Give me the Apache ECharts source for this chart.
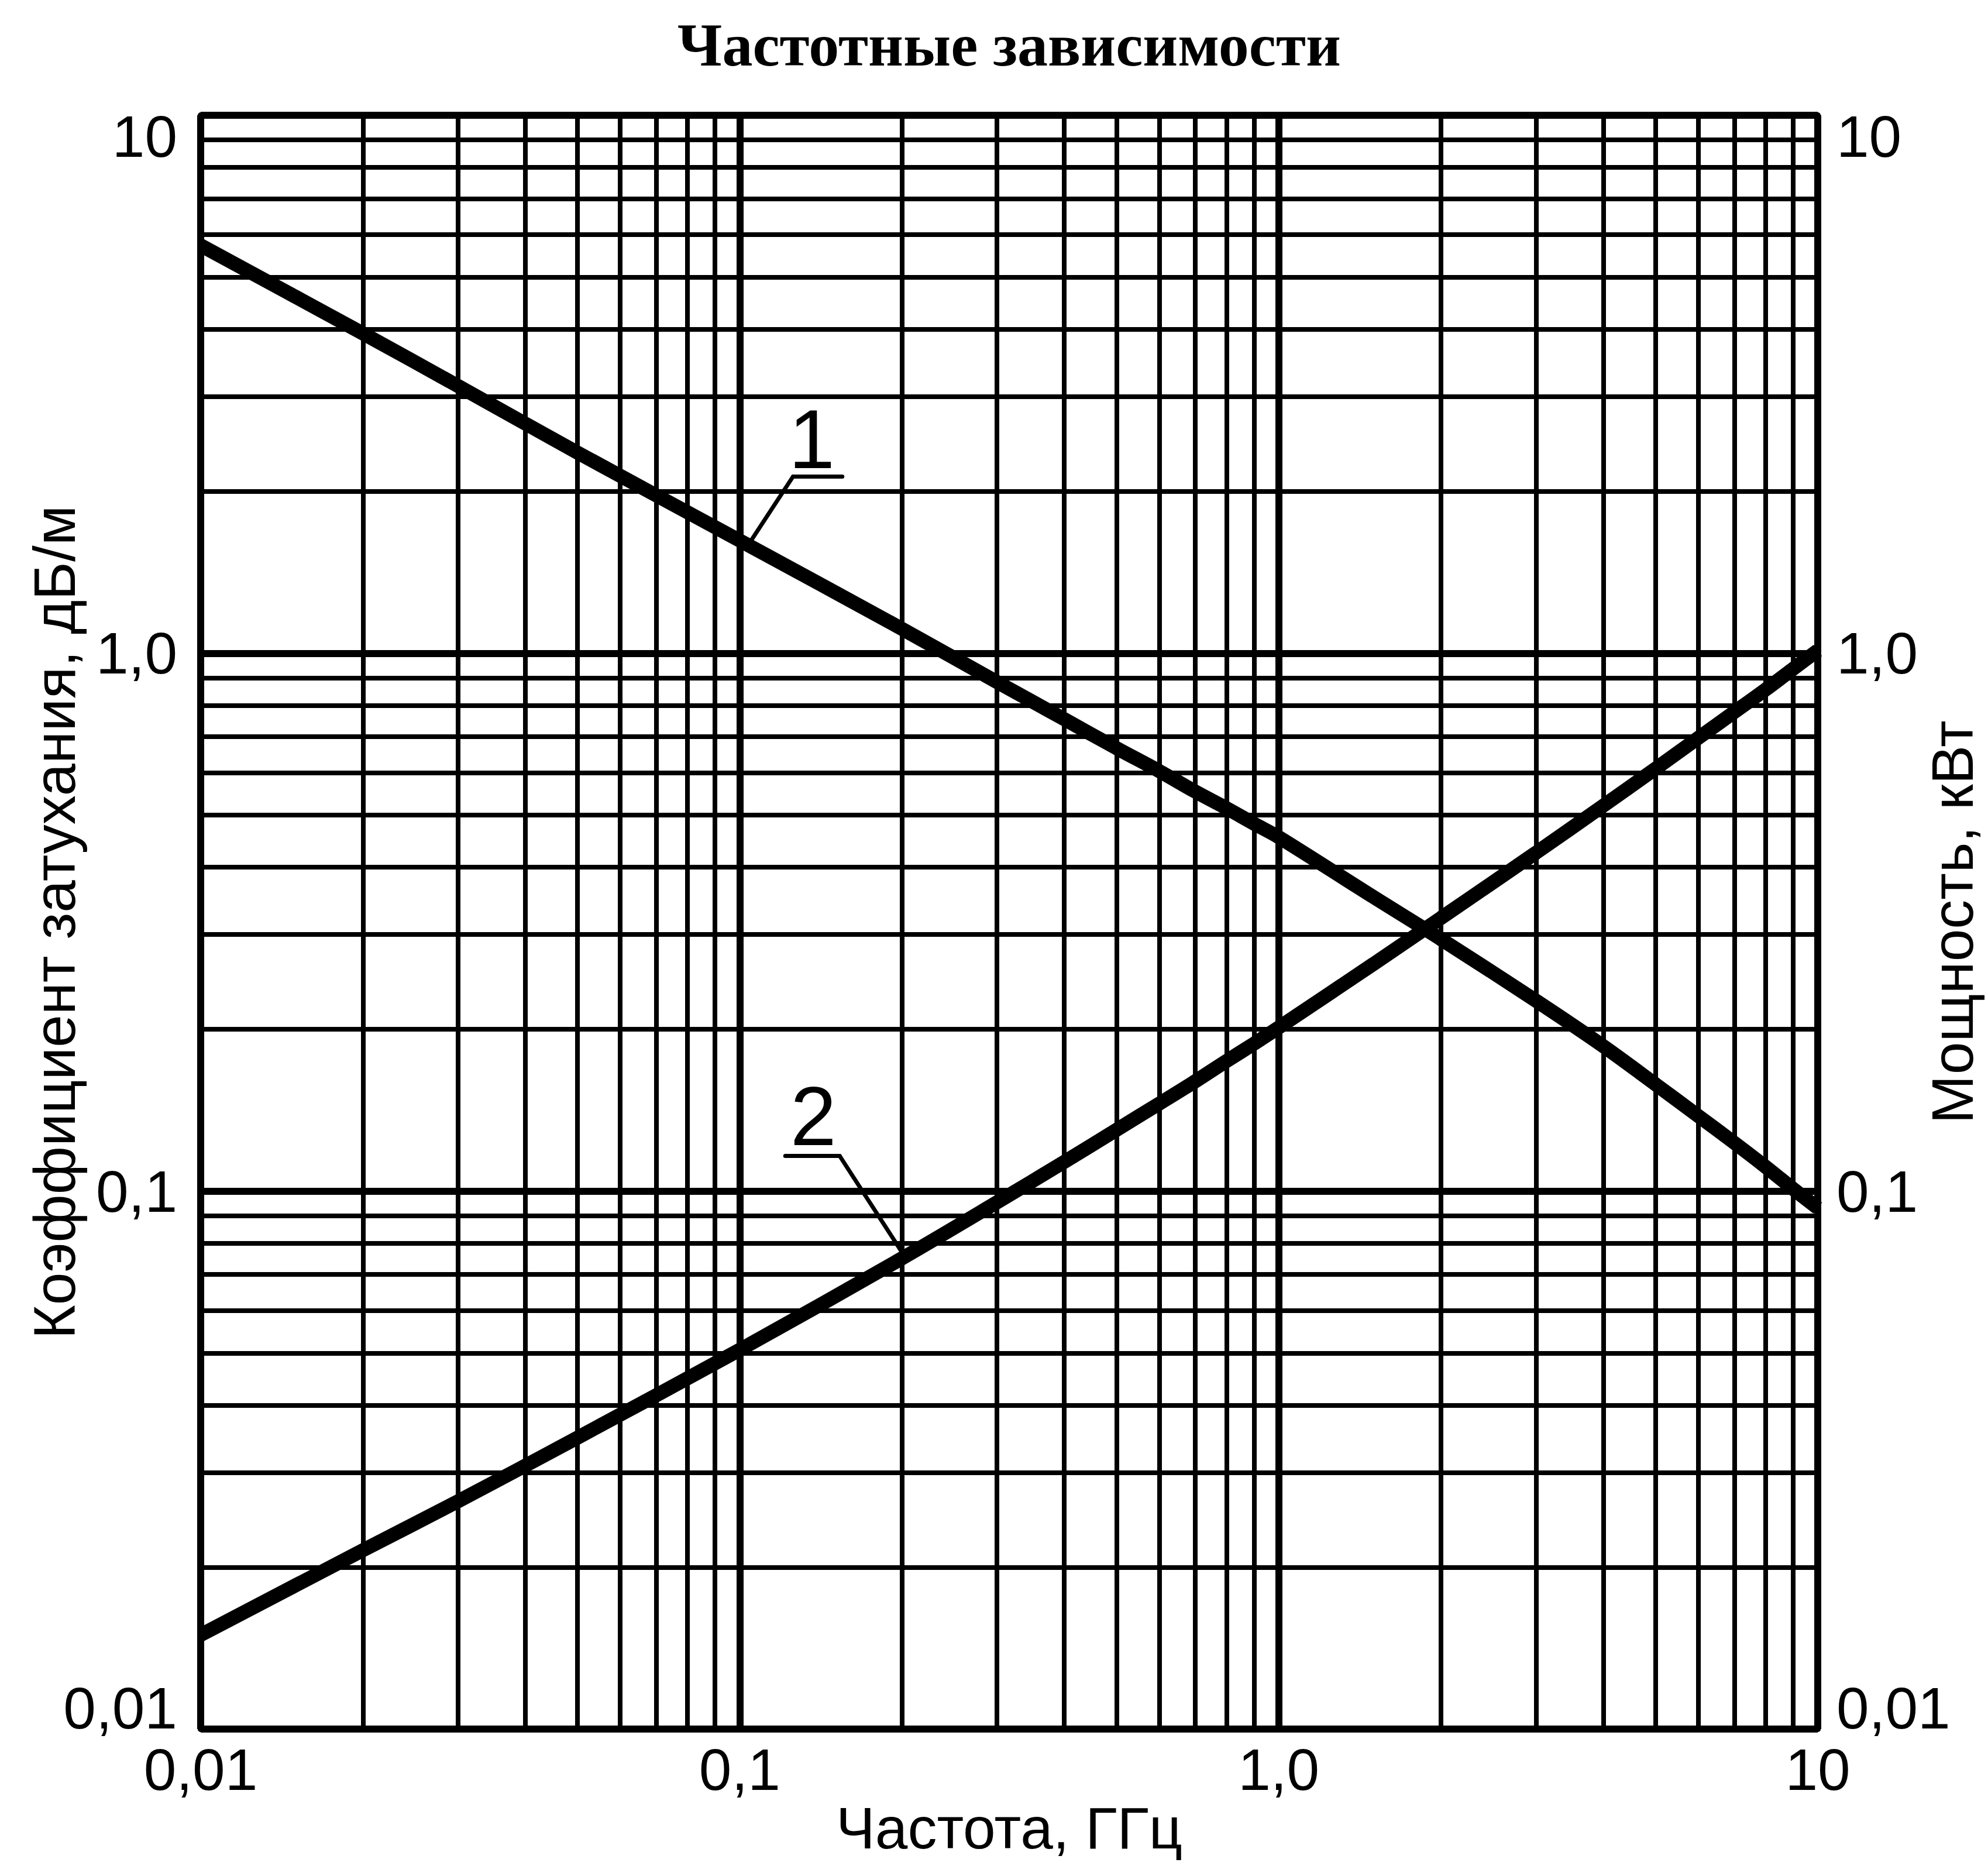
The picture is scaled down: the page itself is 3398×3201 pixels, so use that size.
<!DOCTYPE html>
<html>
<head>
<meta charset="utf-8">
<title>Частотные зависимости</title>
<script src="https://cdn.jsdelivr.net/npm/echarts@6/dist/echarts.min.js"></script>
<style>
  html, body { margin: 0; padding: 0; background: #fff; }
  #chart { width: 3398px; height: 3201px; }
</style>
</head>
<body>
<div id="chart"></div>
<script>
// частота, ГГц
const freq = [0.01, 0.02, 0.03, 0.05, 0.1, 0.2, 0.3, 0.4, 0.5, 0.6, 0.7, 0.8, 0.9, 1, 1.5, 2, 3, 4, 5, 6, 7, 8, 9, 10];
// кривая 1 - коэффициент затухания, дБ/м (левая ось)
const attenuation = [5.73, 3.93, 3.14, 2.36, 1.62, 1.11, 0.884, 0.754, 0.666, 0.604, 0.553, 0.515, 0.482, 0.455, 0.352, 0.294, 0.226, 0.186, 0.158, 0.138, 0.123, 0.111, 0.101, 0.093];
// кривая 2 - мощность, кВт (правая ось)
const power = [0.01496, 0.0215, 0.0265, 0.0348, 0.0507, 0.075, 0.0953, 0.1133, 0.130, 0.1454, 0.160, 0.1745, 0.188, 0.2015, 0.2645, 0.322, 0.4255, 0.5205, 0.61, 0.6955, 0.777, 0.8555, 0.935, 1.012];

// подписи делений
const tickValues = [0.01, 0.1, 1, 10];
const tickLabels = ['0,01', '0,1', '1,0', '10'];
const decades = [0.01, 0.1, 1];
const minorSteps = [2, 3, 4, 5, 6, 7, 8, 9];

// выноски с номерами кривых
const label1Pos = [0.136, 2.5];
const label1Leader = [[0.155, 2.13], [0.1256, 2.13], [0.105, 1.62]];
const label2Pos = [0.137, 0.138];
const label2Leader = [[0.1215, 0.1162], [0.1533, 0.1162], [0.2, 0.077]];

const fontSans = "'Liberation Sans', Arial, sans-serif";

// минорная сетка: 2..9 в каждой декаде
const minorGrid = [];
decades.forEach(d => minorSteps.forEach(s => minorGrid.push(+(d * s).toPrecision(3))));

function tickText(v) {
  let best = 0;
  tickValues.forEach((t, i) => {
    if (Math.abs(Math.log10(v / t)) < Math.abs(Math.log10(v / tickValues[best]))) best = i;
  });
  return tickLabels[best];
}

function leader(points) {
  const segs = [];
  for (let i = 0; i < points.length - 1; i++) {
    segs.push([{ coord: points[i] }, { coord: points[i + 1] }]);
  }
  return {
    silent: true,
    symbol: ['none', 'none'],
    label: { show: false },
    lineStyle: { color: '#000', width: 7, type: 'solid', cap: 'round' },
    data: segs
  };
}

function curveLabel(text, pos) {
  return {
    silent: true,
    symbol: 'rect',
    symbolSize: 1,
    itemStyle: { color: 'rgba(0,0,0,0)' },
    label: {
      show: true, position: 'inside', formatter: text,
      fontFamily: fontSans, fontSize: 142, color: '#000'
    },
    data: [{ coord: pos, name: text }]
  };
}

const axisLabelStyle = { fontFamily: fontSans, fontSize: 100, lineHeight: 72, color: '#000', formatter: tickText };
const nameStyle = { fontFamily: fontSans, fontSize: 100, color: '#000' };

const chart = echarts.init(document.getElementById('chart'), null, { renderer: 'svg' });

const option = {
  animation: false,
  backgroundColor: '#fff',
  title: {
    text: 'Частотные зависимости',
    left: 1725, top: 24, padding: 0, textAlign: 'center',
    textStyle: { fontFamily: "'Liberation Serif', 'Times New Roman', serif", fontWeight: 'bold', fontSize: 104, color: '#000' }
  },
  grid: { left: 343, right: 291, top: 197, bottom: 246, containLabel: false, outerBoundsMode: 'none' },
  xAxis: {
    type: 'log', logBase: 10, min: 0.01, max: 10,
    name: 'Частота, ГГц', nameLocation: 'middle', nameGap: 119, nameMoveOverlap: false, nameTextStyle: nameStyle,
    axisLine: { show: true, lineStyle: { color: '#000', width: 10 } },
    axisTick: { show: false },
    axisLabel: Object.assign({ margin: 33 }, axisLabelStyle),
    splitLine: { show: true, lineStyle: { color: '#000', width: 12 } }
  },
  yAxis: [
    {
      type: 'log', logBase: 10, min: 0.01, max: 10, position: 'left',
      name: 'Коэффициент затухания, дБ/м', nameLocation: 'middle', nameGap: 200, nameMoveOverlap: false,
      nameTextStyle: nameStyle,
      axisLine: { show: true, lineStyle: { color: '#000', width: 10 } },
      axisTick: { show: false },
      axisLabel: Object.assign({ margin: 40, verticalAlignMinLabel: 'bottom', verticalAlignMaxLabel: 'top' }, axisLabelStyle),
      splitLine: { show: true, lineStyle: { color: '#000', width: 12 } }
    },
    {
      type: 'log', logBase: 10, min: 0.01, max: 10, position: 'right',
      name: 'Мощность, кВт', nameLocation: 'middle', nameGap: 190, nameMoveOverlap: false,
      nameTextStyle: Object.assign({}, nameStyle, { lineHeight: 80 }),
      axisLine: { show: true, lineStyle: { color: '#000', width: 10 } },
      axisTick: { show: false },
      axisLabel: Object.assign({ margin: 32, verticalAlignMinLabel: 'bottom', verticalAlignMaxLabel: 'top' }, axisLabelStyle),
      splitLine: { show: false }
    }
  ],
  series: [
    {
      // минорные линии сетки
      type: 'line', yAxisIndex: 0, data: [[1, 1]], symbol: 'none',
      lineStyle: { width: 0 },
      markLine: {
        silent: true,
        symbol: ['none', 'none'],
        label: { show: false },
        lineStyle: { color: '#000', width: 8, type: 'solid' },
        data: minorGrid.map(v => ({ xAxis: v })).concat(minorGrid.map(v => ({ yAxis: v })))
      }
    },
    {
      name: 'Коэффициент затухания', type: 'line', yAxisIndex: 0,
      data: freq.map((f, i) => [f, attenuation[i]]),
      symbol: 'none', smooth: 0.3,
      lineStyle: { color: '#000', width: 24 },
      markLine: leader(label1Leader),
      markPoint: curveLabel('1', label1Pos)
    },
    {
      name: 'Мощность', type: 'line', yAxisIndex: 1,
      data: freq.map((f, i) => [f, power[i]]),
      symbol: 'none', smooth: 0.3,
      lineStyle: { color: '#000', width: 24 },
      markLine: leader(label2Leader),
      markPoint: curveLabel('2', label2Pos)
    }
  ]
};

chart.setOption(option);
</script>
</body>
</html>
